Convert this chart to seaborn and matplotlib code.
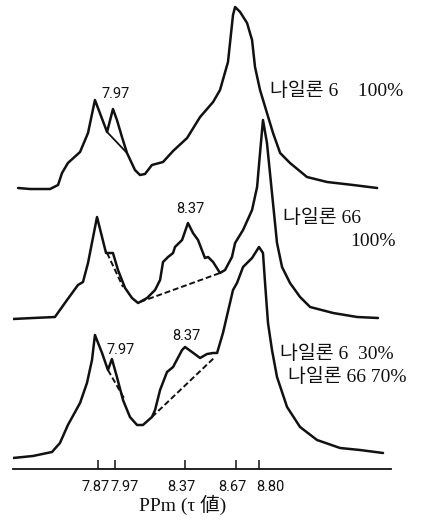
import matplotlib
matplotlib.use("Agg")
import matplotlib.pyplot as plt
import matplotlib.transforms as mtransforms
import pandas as pd
import seaborn as sns

# ---------------- data ----------------
sample_names = ["나일론 6 100%", "나일론 66 100%", "나일론 6 30% / 나일론 66 70%"]

n6_ppm = [7.409, 7.478, 7.594, 7.640, 7.663, 7.697, 7.767, 7.813, 7.853, 7.923,
          7.957, 7.980, 8.009, 8.038, 8.084, 8.113, 8.142, 8.182, 8.246, 8.304,
          8.385, 8.460, 8.535, 8.575, 8.621, 8.650, 8.662, 8.691, 8.731, 8.760,
          8.777, 8.806, 8.846, 8.881, 8.922, 8.979, 9.077, 9.193, 9.343, 9.482]
n6_int = [0, -1, -1, 3, 15, 25, 36, 55, 88, 56,
          79, 68, 51, 35, 18, 13, 14, 23, 26, 37,
          50, 71, 86, 98, 126, 173, 181, 176, 165, 148,
          121, 98, 75, 55, 35, 25, 11, 6, 3, 0]

n66_ppm = [7.380, 7.495, 7.622, 7.692, 7.755, 7.784, 7.813, 7.865, 7.917, 7.957,
           7.986, 8.027, 8.067, 8.102, 8.154, 8.200, 8.229, 8.246, 8.275, 8.304,
           8.315, 8.356, 8.390, 8.419, 8.448, 8.488, 8.506, 8.535, 8.575, 8.604,
           8.644, 8.662, 8.708, 8.760, 8.789, 8.806, 8.823, 8.846, 8.875, 8.904,
           8.933, 8.979, 9.037, 9.095, 9.228, 9.366, 9.487]
n66_int = [-1, 0, 1, 18, 33, 36, 55, 101, 65, 65,
           48, 30, 20, 15, 20, 28, 38, 56, 61, 65,
           71, 78, 95, 85, 78, 60, 61, 56, 45, 48,
           61, 75, 88, 108, 131, 165, 198, 175, 125, 75,
           51, 35, 21, 11, 5, 1, 0]

mix_ppm = [7.380, 7.495, 7.605, 7.651, 7.697, 7.767, 7.807, 7.836, 7.853, 7.894,
           7.928, 7.951, 7.980, 8.015, 8.055, 8.096, 8.130, 8.182, 8.200, 8.229,
           8.269, 8.304, 8.356, 8.373, 8.413, 8.460, 8.500, 8.535, 8.558, 8.592,
           8.650, 8.673, 8.708, 8.760, 8.789, 8.800, 8.823, 8.835, 8.852, 8.875,
           8.904, 8.962, 9.037, 9.135, 9.268, 9.383, 9.516]
mix_int = [-2, 0, 4, 13, 31, 53, 73, 96, 121, 103,
           86, 97, 79, 56, 39, 31, 31, 39, 46, 66,
           84, 89, 106, 109, 104, 98, 102, 103, 103, 123,
           166, 173, 189, 198, 206, 209, 203, 173, 133, 106,
           79, 49, 29, 16, 8, 6, 3]

# separation baselines (ppm start/end, intensity start/end)
n6_base_ppm = [7.923, 8.038]
n6_base_int = [56, 35]
n66_base1_ppm = [7.923, 8.015]
n66_base1_int = [65, 31]
n66_base2_ppm = [8.113, 8.575]
n66_base2_int = [16, 45]
mix_base1_ppm = [7.928, 8.027]
mix_base1_int = [86, 56]
mix_base2_ppm = [8.182, 8.546]
mix_base2_int = [39, 99]

tick_vals = [7.87, 7.97, 8.37, 8.67, 8.80]
tick_labels = ["7.87", "7.97", "8.37", "8.67", "8.80"]
x_label = "PPm (τ 値)"

# ---------------- layout ----------------
W, H = 428, 523
offsets = [281, 151, 13]          # vertical stacking of the three traces
tick_label_shift_px = [-2, 9, -3, -4, 11]   # label nudges as in the print
INK = "#111111"

sns.set_style("white")
plt.rcParams["font.family"] = ["Liberation Serif", "Noto Sans CJK KR", "DejaVu Sans"]

fig = plt.figure(figsize=(W / 100, H / 100), dpi=100)
ax = fig.add_axes([13 / W, (H - 469) / H, (391 - 13) / W, 469 / H])

traces = [(n6_ppm, n6_int), (n66_ppm, n66_int), (mix_ppm, mix_int)]
frames = []
for name, (xs, ys), off in zip(sample_names, traces, offsets):
    frames.append(pd.DataFrame({"ppm": xs, "y": [v + off for v in ys], "sample": name}))
df = pd.concat(frames, ignore_index=True)

sns.lineplot(data=df, x="ppm", y="y", hue="sample", palette=[INK] * 3,
             sort=False, estimator=None, legend=False, linewidth=1.8, ax=ax,
             solid_joinstyle="round", solid_capstyle="round")

# solid shoulder baseline (top trace)
sns.lineplot(x=n6_base_ppm, y=[v + offsets[0] for v in n6_base_int],
             color=INK, linewidth=1.3, ax=ax)
# dashed baselines
for bx, by, off in [(n66_base1_ppm, n66_base1_int, offsets[1]),
                    (n66_base2_ppm, n66_base2_int, offsets[1]),
                    (mix_base1_ppm, mix_base1_int, offsets[2]),
                    (mix_base2_ppm, mix_base2_int, offsets[2])]:
    sns.lineplot(x=bx, y=[v + off for v in by], color=INK,
                 linewidth=1.4, linestyle=(0, (3, 1.5)), ax=ax)

ax.set_xlim(7.380, 9.562)
ax.set_ylim(0, 469)
ax.set_yticks([])
for s in ["left", "right", "top"]:
    ax.spines[s].set_visible(False)
ax.spines["bottom"].set_color(INK)
ax.spines["bottom"].set_linewidth(1.3)
ax.set_xticks(tick_vals)
ax.set_xticklabels([])
ax.tick_params(axis="x", direction="in", length=6.5, width=1.1,
               color=INK, bottom=True)
ax.set_xlabel("")
ax.set_ylabel("")

# tick labels, nudged apart as in the reference
base_tr = mtransforms.blended_transform_factory(ax.transData, ax.transAxes)
for tv, tl, sh in zip(tick_vals, tick_labels, tick_label_shift_px):
    tr = mtransforms.offset_copy(base_tr, fig=fig, x=sh, y=-18, units="dots")
    ax.text(tv, 0, tl, transform=tr, ha="center", va="center",
            family=["Roboto"], fontsize=10.5, color=INK, clip_on=False)

fig.text(183 / W, 1 - 505 / H, x_label, ha="center", va="center",
         fontsize=14, color=INK, family=["Liberation Serif", "Noto Sans CJK JP"])

# peak annotations
num_font = dict(family=["Roboto"], fontsize=10.5, color=INK,
                ha="center", va="center")
peak_ppm = [7.97, 8.402, 8.003, 8.379]
peak_text = ["7.97", "8.37", "7.97", "8.37"]
peak_y = [375, 260, 119, 133]
for px_, txt, py in zip(peak_ppm, peak_text, peak_y):
    ax.text(px_, py, txt, **num_font)

# sample labels
lab_font = dict(fontsize=14, color=INK, va="center",
                family=["Liberation Serif", "Noto Sans CJK KR"])
fig.text(270 / W, 1 - 91 / H, "나일론 6    100%", ha="left", **lab_font)
fig.text(283 / W, 1 - 218 / H, "나일론 66", ha="left", **lab_font)
fig.text(396 / W, 1 - 241 / H, "100%", ha="right", **lab_font)
fig.text(280 / W, 1 - 354 / H, "나일론 6  30%", ha="left", **lab_font)
fig.text(288 / W, 1 - 377 / H, "나일론 66 70%", ha="left", **lab_font)

fig.savefig("out.png", dpi=100, facecolor="white")
